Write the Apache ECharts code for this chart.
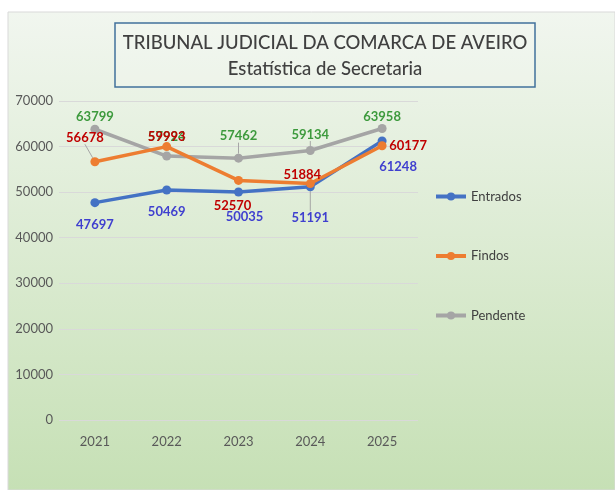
<!DOCTYPE html>
<html>
<head>
<meta charset="utf-8">
<script src="https://cdn.jsdelivr.net/npm/echarts@6/dist/echarts.min.js"></script>
<style>
  html, body { margin: 0; padding: 0; background: #fff; }
  #chart { width: 615px; height: 490px; }
</style>
</head>
<body>
<div id="chart"></div>
<script>
  // dados
  const anos = ['2021', '2022', '2023', '2024', '2025'];
  const entrados = [47697, 50469, 50035, 51191, 61248];
  const findos = [56678, 59993, 52570, 51884, 60177];
  const pendentes = [63799, 57924, 57462, 59134, 63958];
  const yTicks = [0, 10000, 20000, 30000, 40000, 50000, 60000, 70000];

  // deslocamentos das etiquetas (px), para imitar o original
  const offEntrados = [[0, 6], [0, 6], [6, 9], [0, 15], [16, 10]];
  const offFindos = [[-10, -8], [0, 6], [-6, 41], [-8, 7], [26, 16]];
  const offPendentes = [[0, 4], [0, -3], [0, -6], [0, 0], [0, 4]];
  // etiquetas com linha de chamada
  const guiaEntrados = [false, false, false, true, false];
  const guiaFindos = [true, false, false, false, false];
  const guiaPendentes = [false, false, true, true, false];

  const FONT = 'Lato';

  function withLabels(values, pos, color, guias) {
    return values.map((v, i) => ({
      value: v,
      label: {
        show: true,
        position: pos,
        color: color,
        fontWeight: 'bold',
        fontSize: 13,
        fontFamily: FONT
      },
      labelLine: {show: guias[i]}
    }));
  }

  function layoutFrom(offsets) {
    return p => ({dx: offsets[p.dataIndex][0], dy: offsets[p.dataIndex][1]});
  }

  const guia = {lineStyle: {color: '#a6a6a6', width: 1}, length2: 0, smooth: false};

  let chart = echarts.init(document.getElementById('chart'));

  chart.setOption({
    animation: false,
    graphic: [
      {
        type: 'rect',
        z: -10,
        shape: {x: 8, y: 12, width: 607, height: 478},
        style: {
          fill: new echarts.graphic.LinearGradient(0, 0, 0, 1, [
            {offset: 0, color: '#f1f6ef'},
            {offset: 1, color: '#c6e0b5'}
          ]),
          stroke: '#d9d9d9',
          lineWidth: 1
        }
      },
      {
        type: 'rect',
        z: -5,
        shape: {x: 115, y: 23, width: 420, height: 64},
        style: {fill: 'rgba(255,255,255,0.15)', stroke: '#41719c', lineWidth: 1.5}
      }
    ],
    title: {
      text: 'TRIBUNAL JUDICIAL DA COMARCA DE AVEIRO\nEstatística de Secretaria',
      left: 320,
      top: 25,
      textAlign: 'center',
      textStyle: {
        color: '#404040',
        fontSize: 18.5,
        fontWeight: 500,
        fontFamily: FONT,
        lineHeight: 26
      }
    },
    legend: {
      orient: 'vertical',
      left: 429,
      top: 185,
      itemGap: 46.5,
      itemWidth: 30,
      itemHeight: 10,
      lineStyle: {width: 4},
      textStyle: {color: '#404040', fontSize: 13, fontFamily: FONT},
      data: ['Entrados', 'Findos', 'Pendente']
    },
    grid: {left: 59, right: 197, top: 101, bottom: 70},
    xAxis: {
      type: 'category',
      data: anos,
      boundaryGap: true,
      axisLine: {show: false},
      axisTick: {show: false},
      axisLabel: {color: '#595959', fontSize: 13, fontFamily: FONT, margin: 15}
    },
    yAxis: {
      type: 'value',
      min: yTicks[0],
      max: yTicks[yTicks.length - 1],
      interval: 10000,
      axisLine: {show: false},
      axisTick: {show: false},
      axisLabel: {color: '#595959', fontSize: 13, fontFamily: FONT, margin: 6, formatter: v => String(v)},
      splitLine: {lineStyle: {color: '#d9d9d9', width: 1}}
    },
    series: [
      {
        name: 'Entrados',
        type: 'line',
        data: withLabels(entrados, 'bottom', '#3f3fcf', guiaEntrados),
        labelLayout: layoutFrom(offEntrados),
        labelLine: guia,
        symbol: 'circle',
        symbolSize: 9,
        itemStyle: {color: '#4472c4'},
        lineStyle: {width: 3.5, color: '#4472c4'},
        z: 3
      },
      {
        name: 'Findos',
        type: 'line',
        data: withLabels(findos, 'top', '#c00000', guiaFindos),
        labelLayout: layoutFrom(offFindos),
        labelLine: guia,
        symbol: 'circle',
        symbolSize: 9,
        itemStyle: {color: '#ed7d31'},
        lineStyle: {width: 3.5, color: '#ed7d31'},
        z: 4
      },
      {
        name: 'Pendente',
        type: 'line',
        data: withLabels(pendentes, 'top', '#3d9a3d', guiaPendentes),
        labelLayout: layoutFrom(offPendentes),
        labelLine: guia,
        symbol: 'circle',
        symbolSize: 9,
        itemStyle: {color: '#a5a5a5'},
        lineStyle: {width: 3.5, color: '#a5a5a5'},
        z: 2
      }
    ]
  });
</script>
</body>
</html>
